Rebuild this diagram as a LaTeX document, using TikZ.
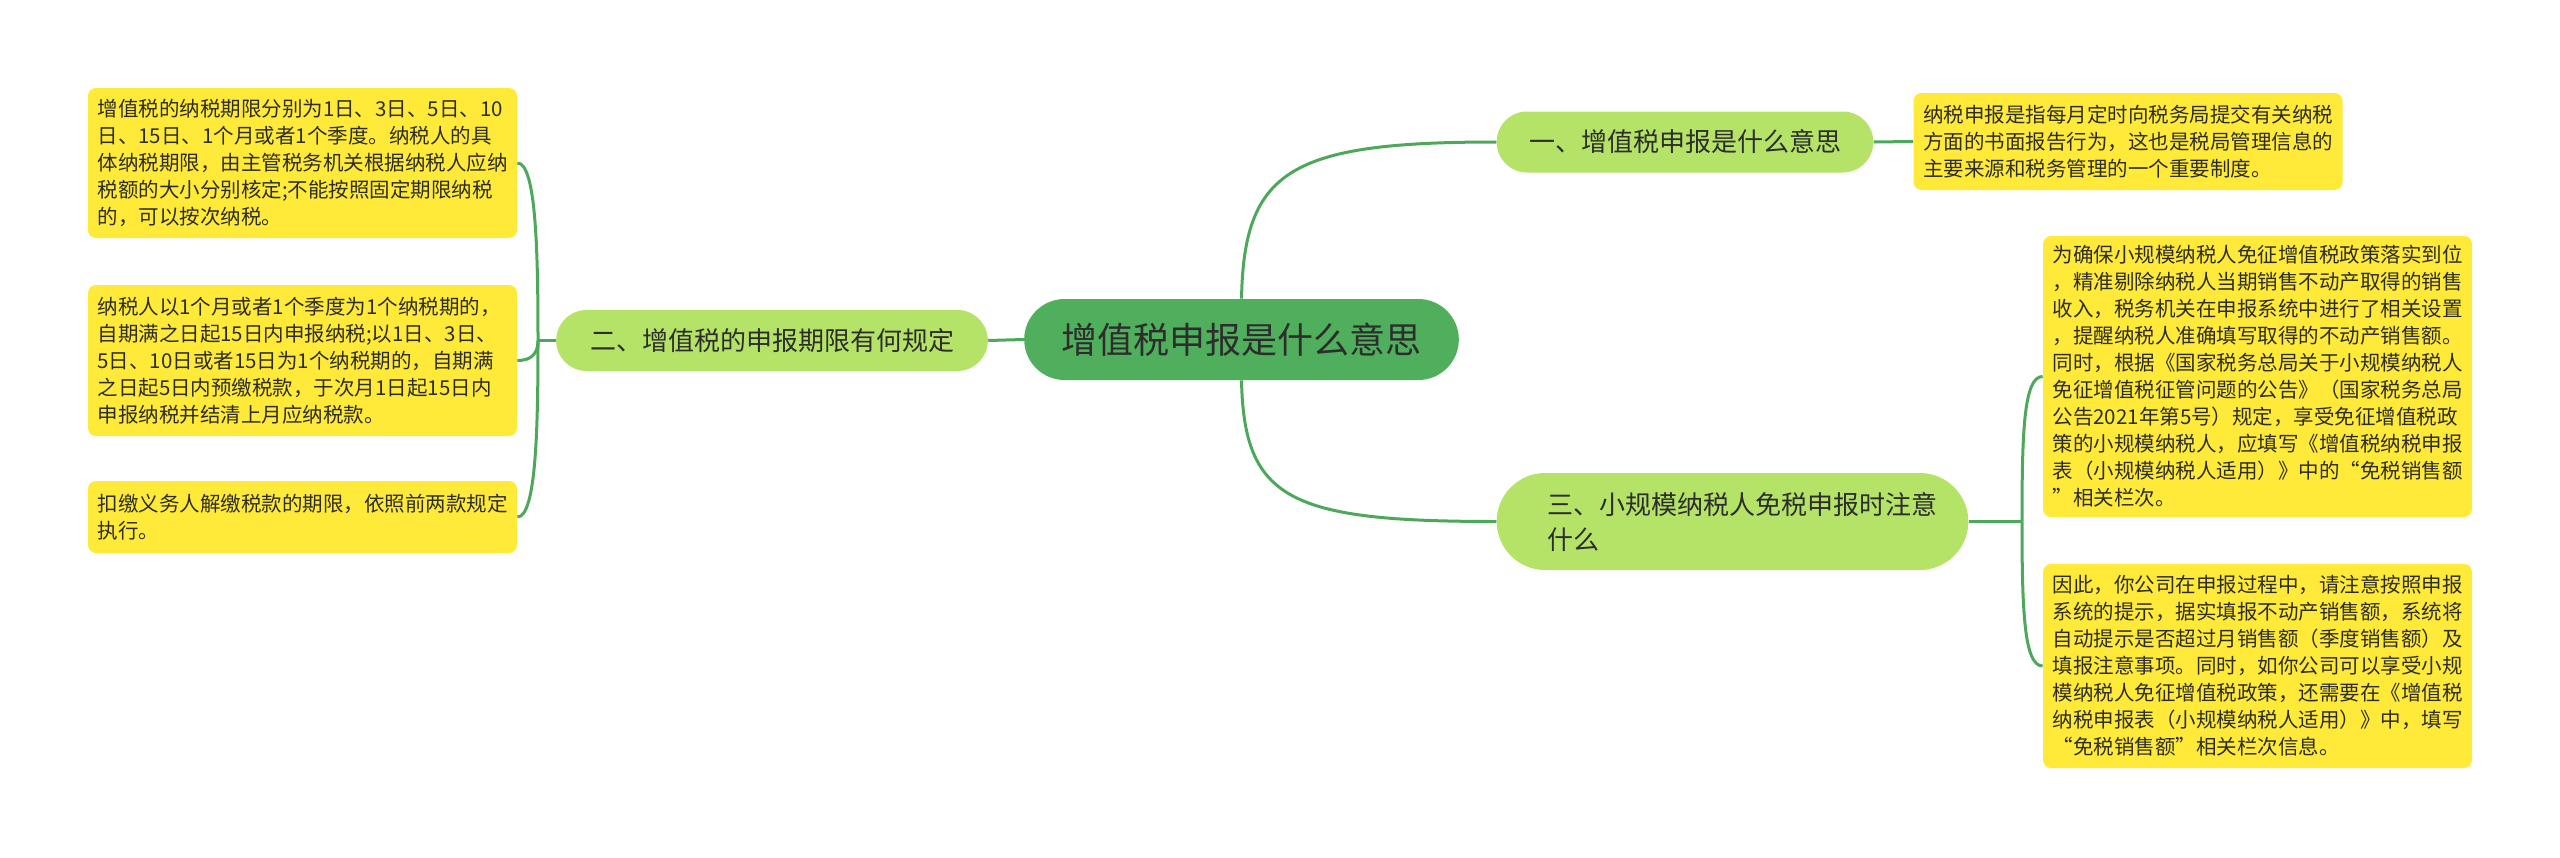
\documentclass[tikz,border=0pt]{standalone}
\usepackage{fontspec}
\setmainfont{Noto Sans CJK SC}
\usetikzlibrary{shapes.misc}

\definecolor{rootgreen}{RGB}{80,175,92}
\definecolor{branchgreen}{RGB}{181,227,103}
\definecolor{leafyellow}{RGB}{255,234,58}
\definecolor{linkgreen}{RGB}{78,168,92}
\definecolor{inkgray}{RGB}{45,45,45}

\begin{document}
\begin{tikzpicture}[
  x=0.5pt, y=-0.5pt,
  every node/.style={text=inkgray},
  topic/.style={rounded rectangle, fill=rootgreen, minimum width=224pt,
    minimum height=40.5pt, font=\fontsize{18pt}{22pt}\selectfont},
  branch/.style={rounded rectangle, fill=branchgreen, minimum height=30.5pt,
    font=\fontsize{13pt}{17.5pt}\selectfont},
  leaf/.style={rectangle, rounded corners=4pt, fill=leafyellow,
    text width=205pt, inner xsep=4.75pt, align=left,
    font=\fontsize{10.25pt}{13.5pt}\selectfont},
  link/.style={draw=linkgreen, line width=1.5pt}
]
\fill[white] (0,0) rectangle (2560,857);

% ---- centre topic ----
\node[topic] (root) at (1241.5,339.5) {增值税申报是什么意思};

% ---- main branches ----
\node[branch, minimum width=195pt] (b1) at (1685,142) {一、增值税申报是什么意思};
\node[branch, minimum width=222.5pt] (b2) at (772,340.5) {二、增值税的申报期限有何规定};
\node[branch, minimum width=242.5pt, minimum height=48.5pt, text width=185pt,
  align=left] (b3) at (1732.5,521.5) {三、小规模纳税人免税申报时注意\\什么};

% ---- leaves of branch one ----
\node[leaf, minimum height=48.5pt] (r1) at (2128,141.5) {纳税申报是指每月定时向税务局提交有关纳税\\
方面的书面报告行为，这也是税局管理信息的\\
主要来源和税务管理的一个重要制度。};

% ---- leaves of branch two ----
\node[leaf, minimum height=75pt] (l1) at (302.5,163) {增值税的纳税期限分别为1日、3日、5日、10\\
日、15日、1个月或者1个季度。纳税人的具\\
体纳税期限，由主管税务机关根据纳税人应纳\\
税额的大小分别核定;不能按照固定期限纳税\\
的，可以按次纳税。};
\node[leaf, minimum height=75.5pt] (l2) at (302.5,360.5) {纳税人以1个月或者1个季度为1个纳税期的，\\
自期满之日起15日内申报纳税;以1日、3日、\\
5日、10日或者15日为1个纳税期的，自期满\\
之日起5日内预缴税款，于次月1日起15日内\\
申报纳税并结清上月应纳税款。};
\node[leaf, minimum height=36pt] (l3) at (302.5,517) {扣缴义务人解缴税款的期限，依照前两款规定\\
执行。};

% ---- leaves of branch three ----
\node[leaf, minimum height=140.5pt] (r2) at (2257.5,376.5) {为确保小规模纳税人免征增值税政策落实到位\\
，精准剔除纳税人当期销售不动产取得的销售\\
收入，税务机关在申报系统中进行了相关设置\\
，提醒纳税人准确填写取得的不动产销售额。\\
同时，根据《国家税务总局关于小规模纳税人\\
免征增值税征管问题的公告》（国家税务总局\\
公告2021年第5号）规定，享受免征增值税政\\
策的小规模纳税人，应填写《增值税纳税申报\\
表（小规模纳税人适用）》中的“免税销售额\\
”相关栏次。};
\node[leaf, minimum height=102pt] (r3) at (2257.5,666) {因此，你公司在申报过程中，请注意按照申报\\
系统的提示，据实填报不动产销售额，系统将\\
自动提示是否超过月销售额（季度销售额）及\\
填报注意事项。同时，如你公司可以享受小规\\
模纳税人免征增值税政策，还需要在《增值税\\
纳税申报表（小规模纳税人适用）》中，填写\\
“免税销售额”相关栏次信息。};

% ---- connectors ----
\coordinate (jl) at (538,340.5);
\coordinate (jr) at (2022,521.5);

\draw[link] (root.north) .. controls (1244,170) and (1290,142) .. (b1.west);
\draw[link] (root.west) -- (b2.east);
\draw[link] (root.south) .. controls (1244,500) and (1290,521.5) .. (b3.west);

\draw[link] (b1.east) -- (r1.west);

\draw[link] (b2.west) -- (jl);
\draw[link] (jl) .. controls (538,250) and (536,163) .. (l1.east);
\draw[link] (jl) .. controls (538,355) and (530,360.5) .. (l2.east);
\draw[link] (jl) .. controls (538,430) and (536,517) .. (l3.east);

\draw[link] (b3.east) -- (jr);
\draw[link] (jr) .. controls (2022,430) and (2024,376.5) .. (r2.west);
\draw[link] (jr) .. controls (2022,610) and (2024,666) .. (r3.west);

\end{tikzpicture}
\end{document}
